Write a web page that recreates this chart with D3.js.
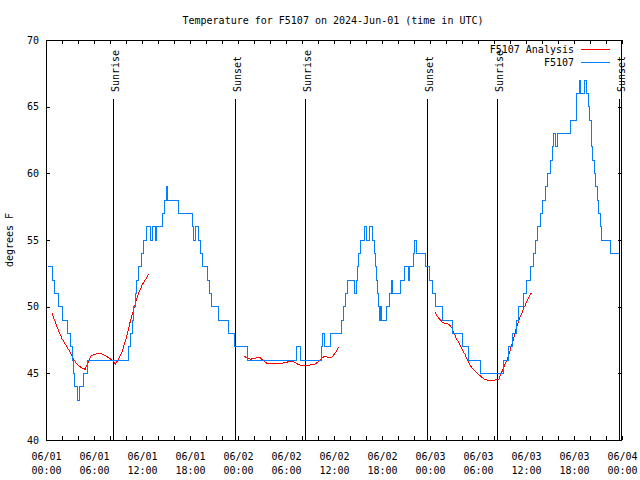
<!DOCTYPE html>
<html><head><meta charset="utf-8">
<script src="https://cdn.jsdelivr.net/npm/d3@7"></script>
<style>
body{margin:0;background:#fff}
svg text{font-family:"DejaVu Sans Mono",monospace;font-size:10px;fill:#000}
</style>
</head><body><svg id="c" width="640" height="480"></svg>
<script>
// ---------- data ----------
const chartTitle = "Temperature for F5107 on 2024-Jun-01 (time in UTC)";
const yAxisLabel = "degrees F";
const seriesNames = ["F5107 Analysis", "F5107"];
const yTickValues = [40, 45, 50, 55, 60, 65, 70];

// observed temperature (hours after 2024-06-01 00:00 UTC, deg F)
const obsHours = [0.25,0.75,1.1,1.6,2.1,2.7,3.05,3.25,3.4,3.6,3.9,4.2,4.7,5.2,10.3,10.6,10.75,10.9,11.2,11.35,11.55,11.9,12.2,12.5,13.0,13.35,13.7,13.85,14.6,14.8,15.0,15.2,16.6,18.3,18.45,18.7,19.05,19.3,19.55,20.2,20.45,20.7,21.6,22.85,23.6,25.2,31.35,31.75,34.4,34.6,34.85,35.6,36.95,37.15,37.4,37.65,38.5,38.75,38.95,39.1,39.25,39.8,40.0,40.4,40.8,41.0,41.15,41.3,41.45,41.55,41.65,41.8,41.95,42.55,42.95,43.15,43.35,44.3,44.85,45.3,45.45,45.95,46.1,46.3,47.45,47.9,48.3,48.7,49.6,50.85,52.05,52.85,54.35,57.2,57.85,58.35,58.75,59.1,59.65,60.1,60.55,60.95,61.2,61.4,61.75,62.1,62.4,62.7,63.05,63.3,63.4,63.65,63.95,65.55,66.25,66.65,66.8,67.35,67.55,67.75,67.95,68.15,68.3,68.5,68.7,68.9,69.1,69.25,69.4,70.55,71.65];
const obsTemps = [53,52,51,50,49,48,47,46,45,44,43,44,45,46,47,48,49,50,51,52,53,54,55,56,55,56,55,56,57,58,59,58,57,56,55,56,55,54,53,52,51,50,49,48,47,46,47,46,47,48,47,48,49,50,51,52,51,52,53,54,55,56,55,56,55,54,53,52,51,50,49,50,49,50,51,52,51,52,53,52,53,54,55,54,53,52,51,50,49,48,47,46,45,46,47,48,49,50,51,52,53,54,55,56,57,58,59,60,61,62,63,62,63,64,66,67,66,67,66,65,64,62,61,60,59,58,57,56,55,54,54];

// analysis runs
const analysis1Hours = [0.75,1.0,1.5,2.0,2.5,3.0,3.5,4.0,4.5,4.9,5.25,5.6,6.0,6.5,7.0,7.5,8.0,8.4,8.7,9.0,9.5,10.0,10.5,11.0,11.5,12.0,12.5,12.8];
const analysis1Temps = [49.5,49.1,48.3,47.6,47.1,46.6,46.0,45.6,45.4,45.3,45.8,46.3,46.4,46.5,46.45,46.3,46.1,45.9,45.7,46.0,46.6,47.6,48.8,49.9,50.9,51.6,52.1,52.45];
const analysis2Hours = [24.75,25.0,25.3,25.6,25.9,26.3,26.7,27.0,27.2,27.5,27.8,28.5,29.25,30.0,30.2,30.5,30.9,31.3,31.6,32.0,32.4,32.8,33.2,33.6,33.9,34.25,34.6,34.9,35.2,35.4,35.7,36.0,36.25,36.5,36.7];
const analysis2Temps = [46.3,46.2,46.1,46.05,46.15,46.15,46.2,46.05,45.95,45.8,45.7,45.75,45.75,45.8,45.85,45.9,45.9,45.75,45.65,45.6,45.55,45.6,45.65,45.7,45.8,46.0,46.2,46.3,46.2,46.15,46.2,46.4,46.6,46.9,47.0];
const analysis3Hours = [48.6,48.8,49.0,49.3,49.6,49.9,50.3,50.5,50.75,50.9,51.1,51.3,51.5,51.75,51.95,52.2,52.4,52.6,52.8,53.0,53.2,53.6,54.0,54.5,54.7,55.1,55.5,55.9,56.3,56.6,56.8,57.1,57.4,57.7,57.9,58.2,58.4,58.6,58.8,59.0,59.25,59.5,59.7,59.9,60.1,60.3,60.5,60.7];
const analysis3Temps = [49.6,49.4,49.2,49.0,48.8,48.75,48.7,48.6,48.4,48.1,47.9,47.6,47.4,47.1,46.9,46.6,46.4,46.1,45.9,45.6,45.45,45.2,44.95,44.7,44.6,44.5,44.45,44.45,44.55,44.55,44.9,45.25,45.75,46.1,46.5,47.1,47.5,48.0,48.4,48.75,49.2,49.55,49.9,50.1,50.4,50.6,50.9,51.05];

const sunriseTimes = ["2024-06-01T08:25Z","2024-06-02T08:25Z","2024-06-03T08:24Z"];
const sunsetTimes  = ["2024-06-01T23:40Z","2024-06-02T23:40Z","2024-06-03T23:40Z"];

// ---------- drawing ----------
const L = 46, R = 622, T = 40, B = 440;
const t0 = Date.UTC(2024, 5, 1), t1 = Date.UTC(2024, 5, 4);
const toDate = h => new Date(t0 + h * 3600000);
const svg = d3.select("#c");

const x = d3.scaleUtc().domain([new Date(t0), new Date(t1)]).range([L, R]);
const y = d3.scaleLinear().domain([40, 70]).range([B, T]);

const xTickVals = d3.utcHour.every(2).range(new Date(t0), new Date(t1 + 1));
const fmtDate = d3.utcFormat("%m/%d"), fmtTime = d3.utcFormat("%H:%M");

function styleAxis(g){ g.select(".domain").remove(); g.selectAll("line").attr("stroke","#000").attr("shape-rendering","crispEdges"); g.attr("font-family",null).attr("font-size",null); }

const gx = svg.append("g").attr("transform",`translate(0,${B})`)
  .call(d3.axisBottom(x).tickValues(xTickVals).tickSizeInner(-4).tickSizeOuter(0).tickFormat(""))
  .call(styleAxis);
gx.selectAll(".tick").each(function(d){
  if (d.getUTCHours() % 6 !== 0) return;
  const t = d3.select(this).append("text").attr("text-anchor","middle").attr("fill","#000");
  t.append("tspan").attr("x",0).attr("y",20).text(fmtDate(d));
  t.append("tspan").attr("x",0).attr("y",34).text(fmtTime(d));
});
svg.append("g").attr("transform",`translate(0,${T})`)
  .call(d3.axisTop(x).tickValues(xTickVals).tickSizeInner(-4).tickSizeOuter(0).tickFormat(""))
  .call(styleAxis);
svg.append("g").attr("transform",`translate(${L},0)`)
  .call(d3.axisLeft(y).tickValues(yTickValues).tickSizeInner(-4).tickSizeOuter(0).tickPadding(7).tickFormat(d3.format("d")))
  .call(styleAxis)
  .selectAll("text").attr("fill","#000");
svg.append("g").attr("transform",`translate(${R},0)`)
  .call(d3.axisRight(y).tickValues(yTickValues).tickSizeInner(-4).tickSizeOuter(0).tickFormat(""))
  .call(styleAxis);

// frame
svg.append("rect").attr("x",L+0.5).attr("y",T+0.5).attr("width",R-L-1).attr("height",B-T)
  .attr("fill","none").attr("stroke","#000").attr("shape-rendering","crispEdges");

// sunrise / sunset markers
const sunEvents = sunriseTimes.map(s=>({t:new Date(s),label:"Sunrise"}))
  .concat(sunsetTimes.map(s=>({t:new Date(s),label:"Sunset"})));
sunEvents.forEach(e=>{
  const xx = Math.round(x(e.t)) + 0.5;
  svg.append("line").attr("x1",xx).attr("x2",xx).attr("y1",99).attr("y2",B)
    .attr("stroke","#000").attr("shape-rendering","crispEdges");
  svg.append("text").attr("transform",`translate(${xx+5},92) rotate(-90)`)
    .attr("text-anchor","start").text(e.label);
});

// analysis series
const line = d3.line().x(d=>x(toDate(d[0]))).y(d=>y(d[1]));
[[analysis1Hours,analysis1Temps],[analysis2Hours,analysis2Temps],[analysis3Hours,analysis3Temps]].forEach(([hs,ts])=>{
  svg.append("path").datum(hs.map((h,i)=>[h,ts[i]]))
    .attr("d",line).attr("fill","none").attr("stroke","#ff0000").attr("stroke-width",1)
    .attr("shape-rendering","crispEdges");
});

// observed series
const stepLine = d3.line().curve(d3.curveStepAfter).x(d=>x(toDate(d[0]))).y(d=>y(d[1]));
svg.append("path").datum(obsHours.map((h,i)=>[h,obsTemps[i]]))
  .attr("d",stepLine).attr("fill","none").attr("stroke","#0080ff").attr("stroke-width",1)
  .attr("shape-rendering","crispEdges");

// legend
const legendColors = ["#ff0000","#0080ff"];
seriesNames.forEach((n,i)=>{
  const ly = 49.5 + i*13;
  svg.append("text").attr("x",574).attr("y",ly+3.6).attr("text-anchor","end").text(n);
  svg.append("line").attr("x1",581).attr("x2",610).attr("y1",ly).attr("y2",ly)
    .attr("stroke",legendColors[i]).attr("stroke-width",1).attr("shape-rendering","crispEdges");
});

// title & y label
svg.append("text").attr("x",333).attr("y",24).attr("text-anchor","middle").text(chartTitle);
svg.append("text").attr("transform","translate(13,240) rotate(-90)").attr("text-anchor","middle").text(yAxisLabel);
</script>
</body></html>
